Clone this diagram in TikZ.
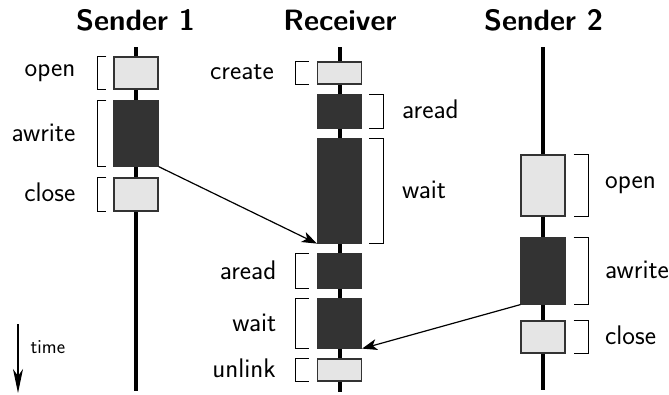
\documentclass[tikz,border=0pt]{standalone}
\usetikzlibrary{arrows.meta}
\newcommand\LBr[3]{\draw[brk] ([xshift=-#2]#1.north west) -- ([xshift=-#3]#1.north west) -- ([xshift=-#3]#1.south west) -- ([xshift=-#2]#1.south west);}
\newcommand\RBr[3]{\draw[brk] ([xshift=#2]#1.north east) -- ([xshift=#3]#1.north east) -- ([xshift=#3]#1.south east) -- ([xshift=#2]#1.south east);}
\begin{document}
\begin{tikzpicture}[x=1bp,y=-1bp,
  lifeline/.style={line width=4bp, black},
  boxbase/.style={draw=black!80, line width=1.2bp, minimum width=44bp, inner sep=0pt},
  lightbox/.style={boxbase, fill=black!10},
  darkbox/.style={boxbase, fill=black!80},
  brk/.style={line width=1bp, black},
  lbl/.style={font=\sffamily\fontsize{27}{32}\selectfont, inner sep=0pt},
  ttl/.style={font=\sffamily\bfseries\fontsize{29.5}{34}\selectfont, inner sep=0pt, anchor=base},
  msg/.style={line width=1.2bp, -{Stealth[length=15bp,width=11bp,inset=4bp]}},
]
\useasboundingbox (0,0) rectangle (669,394);
% titles
\node[ttl] (t1) at (135.5,30) {Sender 1};
\node[ttl] (t2) at (340,30) {Receiver};
\node[ttl] (t3) at (543.5,30) {Sender 2};
% lifelines
\coordinate (s1top) at (136,47);  \coordinate (s1bot) at (136,391);
\coordinate (rtop) at (339.5,47); \coordinate (rbot) at (339.5,392);
\coordinate (s2top) at (543,47);  \coordinate (s2bot) at (543,390);
\draw[lifeline] (s1top) -- (s1bot);
\draw[lifeline] (rtop) -- (rbot);
\draw[lifeline] (s2top) -- (s2bot);
% Sender 1 boxes
\node[lightbox, minimum height=32bp] (op1) at (136,73) {};
\node[darkbox, minimum height=65bp] (aw1) at (136,133.5) {};
\node[lightbox, minimum height=33bp] (cl1) at (136,194.5) {};
% Receiver boxes
\node[lightbox, minimum height=22bp] (cr) at (339.5,73) {};
\node[darkbox, minimum height=33bp] (ar1) at (339.5,111.5) {};
\node[darkbox, minimum height=104bp] (wt1) at (339.5,191) {};
\node[darkbox, minimum height=34bp] (ar2) at (339.5,271) {};
\node[darkbox, minimum height=49bp] (wt2) at (339.5,323.5) {};
\node[lightbox, minimum height=22bp] (ul) at (339.5,370) {};
% Sender 2 boxes
\node[lightbox, minimum height=61bp] (op2) at (543,185.5) {};
\node[darkbox, minimum height=66bp] (aw2) at (543,271) {};
\node[lightbox, minimum height=32bp] (cl2) at (543,337) {};
% brackets
\LBr{op1}{7bp}{16bp}
\LBr{aw1}{7bp}{16bp}
\LBr{cl1}{7bp}{16bp}
\LBr{cr}{8bp}{21bp}
\RBr{ar1}{7bp}{21bp}
\RBr{wt1}{7bp}{21bp}
\LBr{ar2}{8bp}{21bp}
\LBr{wt2}{8bp}{21bp}
\LBr{ul}{8bp}{21bp}
\RBr{op2}{8bp}{23bp}
\RBr{aw2}{8bp}{23bp}
\RBr{cl2}{8bp}{23bp}
% labels
\node[lbl, anchor=mid east] (lop1) at (75.5,74.5) {open};
\node[lbl, anchor=mid east] (law1) at (75.5,139) {awrite};
\node[lbl, anchor=mid east] (lcl1) at (75.5,199.5) {close};
\node[lbl, anchor=mid east] (lcr) at (274,77) {create};
\node[lbl, anchor=mid west] (lar1) at (402,116.5) {aread};
\node[lbl, anchor=mid west] (lwt1) at (402,196.5) {wait};
\node[lbl, anchor=mid east] (lar2) at (276.5,277) {aread};
\node[lbl, anchor=mid east] (lwt2) at (276.5,329) {wait};
\node[lbl, anchor=mid east] (lul) at (276,375) {unlink};
\node[lbl, anchor=mid west] (lop2) at (605,186) {open};
\node[lbl, anchor=mid west] (law2) at (605,276.5) {awrite};
\node[lbl, anchor=mid west] (lcl2) at (605,342.5) {close};
% messages
\draw[msg] (aw1.south east) -- (wt1.south west);
\draw[msg] (aw2.south west) -- (wt2.south east);
% time arrow
\coordinate (ta) at (18,324);
\coordinate (tb) at (18,393);
\draw[line width=1.3bp, -{Stealth[length=24bp,width=10bp,inset=7bp]}] (ta) -- (tb);
\node[font=\sffamily\fontsize{20}{24}\selectfont, inner sep=0pt, anchor=mid west] (tl) at (30.5,351) {time};
\end{tikzpicture}
\end{document}
